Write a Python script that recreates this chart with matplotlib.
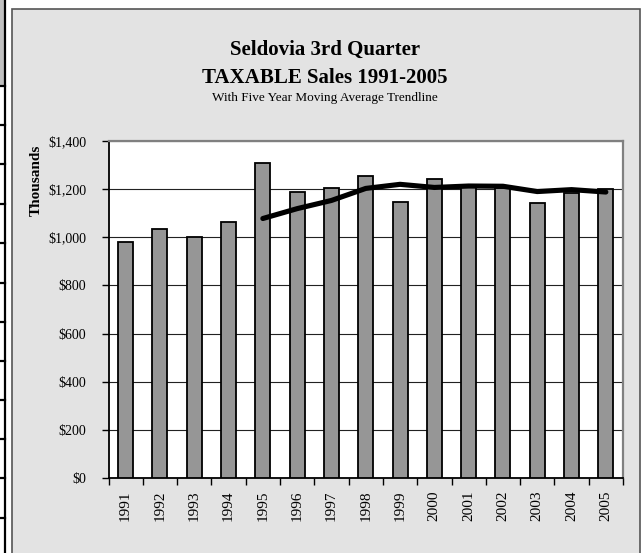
import matplotlib
matplotlib.use("Agg")
import matplotlib.pyplot as plt
from matplotlib.patches import Rectangle
from matplotlib.lines import Line2D
from matplotlib.ticker import FuncFormatter

years = [str(y) for y in range(1991, 2006)]
sales = [980, 1034, 1000, 1063, 1310, 1187, 1203, 1253, 1148, 1243, 1217, 1203, 1141, 1185, 1202]
# five year moving average, starts at 1995
avg_years = years[4:]
moving_avg = [1078, 1119, 1153, 1203, 1220, 1207, 1213, 1212, 1190, 1198, 1188]

W, H = 644, 553
plt.rcParams["font.family"] = ["Liberation Serif", "DejaVu Serif"]

fig = plt.figure(figsize=(W / 100, H / 100), dpi=100, facecolor="white")

def fx(px):
    return px / W

def fy(py):
    return 1 - py / H

# gray chart panel
fig.patches.append(Rectangle((fx(11.5), fy(560)), fx(640) - fx(11.5), fy(9.5) - fy(560),
                             transform=fig.transFigure, facecolor="#e3e3e3",
                             edgecolor="#555555", linewidth=1.2, zorder=-10))

# bit of a table at the left edge
fig.patches.append(Rectangle((0, fy(86)), fx(4.5), fy(0) - fy(86), transform=fig.transFigure,
                             facecolor="#c0c0c0", edgecolor="none", zorder=-10))
fig.lines.append(Line2D([fx(5), fx(5)], [0, 1], transform=fig.transFigure, color="black",
                        lw=1.6, zorder=-5))
for py in [86, 125, 164, 204, 243, 283, 322, 361, 400, 439, 478, 518]:
    fig.lines.append(Line2D([0, fx(5)], [fy(py), fy(py)], transform=fig.transFigure,
                            color="black", lw=1.6, zorder=-5))

ax = fig.add_axes([fx(108.5), fy(478), fx(623) - fx(108.5), fy(141) - fy(478)])
ax.set_zorder(5)
ax.set_facecolor("white")

x = range(len(years))
ax.bar(x, sales, width=0.44, color="#969696", edgecolor="black", linewidth=1.3, zorder=3)
ax.plot(range(4, len(years)), moving_avg, color="black", linewidth=3.7,
        solid_joinstyle="round", solid_capstyle="round", zorder=4)

ax.set_xlim(-0.5, len(years) - 0.5)
ax.set_ylim(0, 1400)
ax.set_yticks(range(0, 1401, 200))
ax.yaxis.set_major_formatter(FuncFormatter(lambda v, p: "${:,.0f}".format(v)))
ax.grid(axis="y", color="#222222", linewidth=0.8, zorder=1)
ax.set_axisbelow(True)

ax.set_xticks([i - 0.5 for i in range(len(years) + 1)])
ax.set_xticklabels([])
ax.set_xticks(list(x), minor=True)
ax.set_xticklabels(years, minor=True, rotation=90, fontsize=11)
ax.tick_params(axis="x", which="major", direction="out", length=5, width=1, colors="black")
ax.tick_params(axis="x", which="minor", length=0, pad=9)
ax.tick_params(axis="y", direction="out", length=5, width=1, labelsize=10, pad=11)

ax.spines["left"].set_color("black")
ax.spines["left"].set_linewidth(1.3)
ax.spines["bottom"].set_color("black")
ax.spines["bottom"].set_linewidth(1.3)
ax.spines["top"].set_color("#808080")
ax.spines["top"].set_linewidth(1.6)
ax.spines["right"].set_color("#808080")
ax.spines["right"].set_linewidth(1.6)

fig.text(fx(36), fy(180), "Thousands", rotation=90, fontsize=11, fontweight="bold",
         ha="center", va="center")

fig.text(fx(325), fy(50), "Seldovia 3rd Quarter", fontsize=15, fontweight="bold",
         ha="center", va="center")
fig.text(fx(325), fy(78), "TAXABLE Sales 1991-2005", fontsize=15, fontweight="bold",
         ha="center", va="center")
fig.text(fx(325), fy(98), "With Five Year Moving Average Trendline", fontsize=9.5,
         ha="center", va="center")

fig.savefig("out.png", dpi=100, facecolor="white")
